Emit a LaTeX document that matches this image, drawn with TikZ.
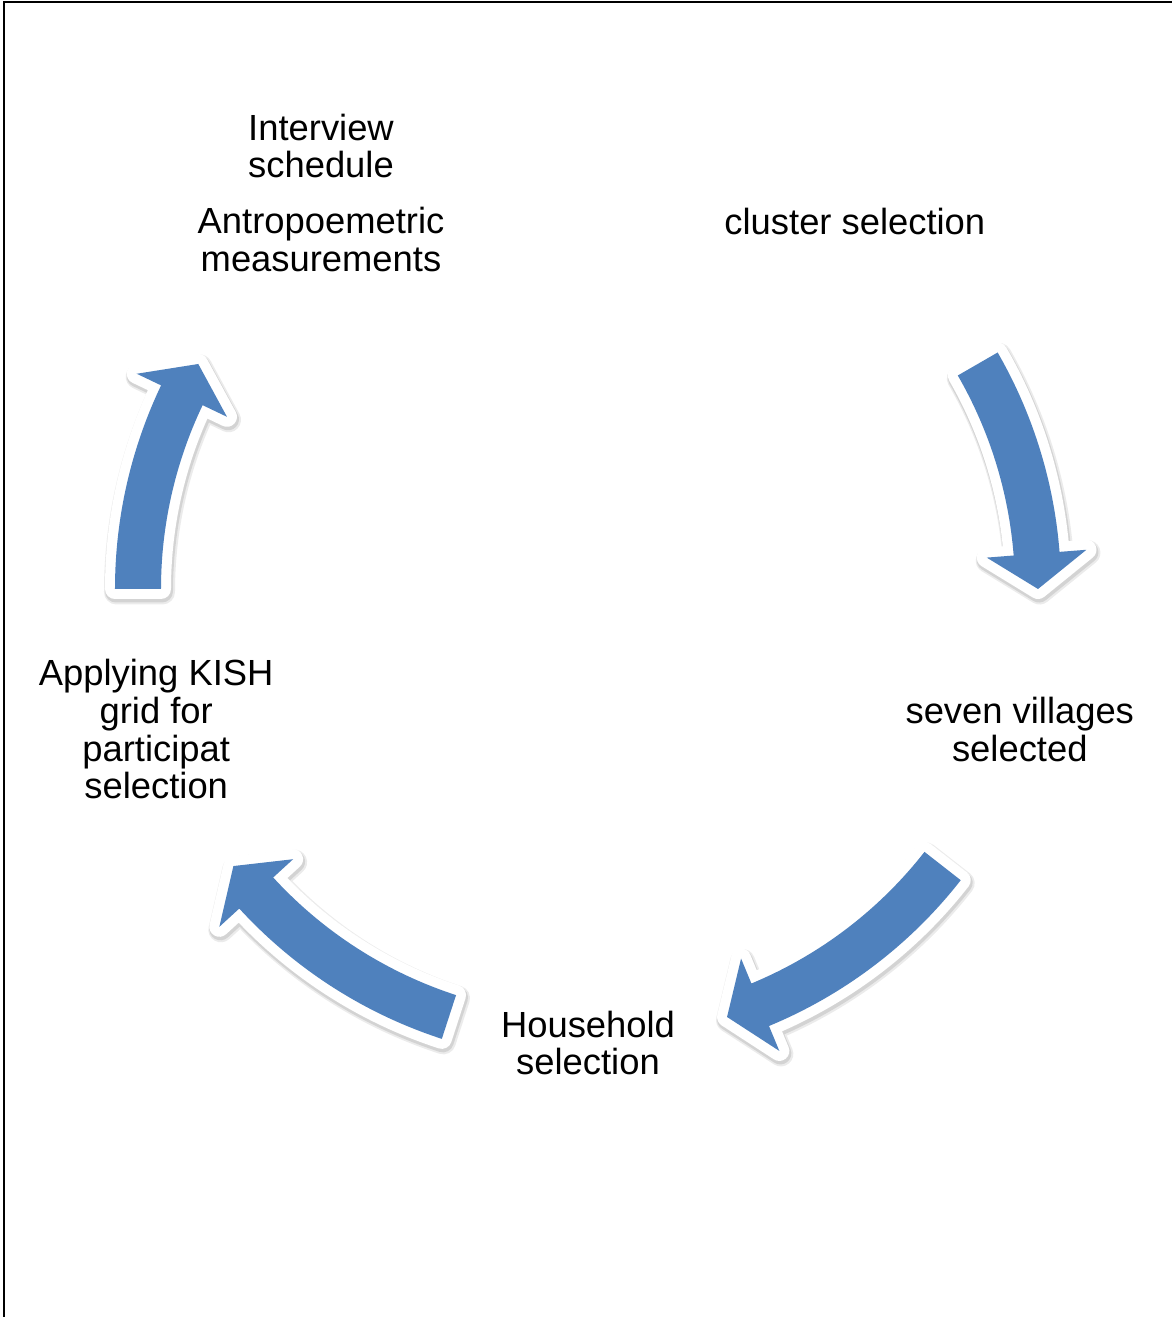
\documentclass[tikz,border=0pt]{standalone}
\usepackage{fontspec}
\setmainfont{Liberation Sans}
\usepackage{xcolor}
\usepackage{tikz}
\usetikzlibrary{positioning, calc}

\definecolor{arrowblue}{RGB}{79,129,189}
\tikzset{
  lbl/.style={align=center, inner sep=0pt, font=\fontsize{20.7pt}{21.4pt}\selectfont},
  blockarrow/.style={fill=arrowblue,
    preaction={draw=black, opacity=0.08, line width=0.5cm, line join=round,
      transform canvas={shift={(0.03cm,-0.06cm)}}},
    preaction={draw=black, opacity=0.1, line width=0.44cm, line join=round,
      transform canvas={shift={(0.02cm,-0.05cm)}}},
    preaction={draw=white, line width=0.4cm, line join=round}},
  frame/.style={line width=0.04cm}
}

\begin{document}
\begin{tikzpicture}[x=0.02cm, y=0.02cm]
\useasboundingbox (-588,-728) rectangle (584,589);
\draw[frame] (-584,-728) -- (-584,587) -- (584,587);

\coordinate (c) at (0,0);

\node[lbl](intv) at (-267,443){Interview\\schedule};
\node[lbl](antro)[below = 0.57cm of intv]{Antropoemetric\\measurements};
\node[lbl](cluster) at (54:454){cluster selection};
\node[lbl](seven) at (-18:454){seven villages\\selected};
\node[lbl](house) at (-90:454){Household\\selection};
\node[lbl](kish) at (198:454){Applying KISH\\grid for\\participat\\selection};

% arrows round the circle
\fill[blockarrow] (30:473) arc[start angle=30, end angle=4.5, radius=473] -- (4.5:500) -- (0:450) -- (4.5:400) -- (4.5:427) arc[start angle=4.5, end angle=30, radius=427] -- cycle;
\fill[blockarrow] (-38:473) arc[start angle=-38, end angle=-67.5, radius=473] -- (-67.5:500) -- (-72:450) -- (-67.5:400) -- (-67.5:427) arc[start angle=-67.5, end angle=-38, radius=427] -- cycle;
\fill[blockarrow] (-108:473) arc[start angle=-108, end angle=-137.5, radius=473] -- (-137.5:500) -- (-142:450) -- (-137.5:400) -- (-137.5:427) arc[start angle=-137.5, end angle=-108, radius=427] -- cycle;
\fill[blockarrow] (180:473) arc[start angle=180, end angle=154.5, radius=473] -- (154.5:500) -- (150:450) -- (154.5:400) -- (154.5:427) arc[start angle=154.5, end angle=180, radius=427] -- cycle;
\end{tikzpicture}
\end{document}
